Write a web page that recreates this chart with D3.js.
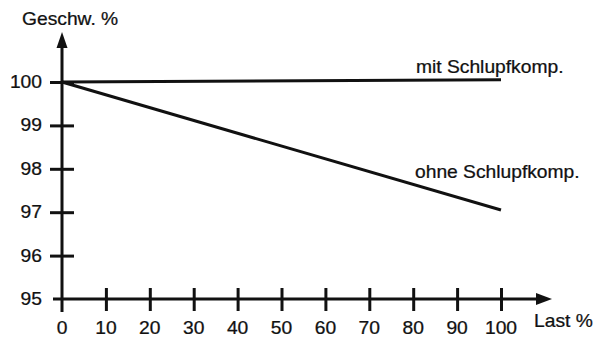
<!DOCTYPE html>
<html>
<head>
<meta charset="utf-8">
<script src="https://cdn.jsdelivr.net/npm/d3@7"></script>
<style>
  html, body { margin: 0; padding: 0; background: #fff; }
  svg text { font-family: "Liberation Sans", Arial, Helvetica, sans-serif; fill: #111; }
</style>
</head>
<body>
<svg id="chart" width="593" height="338"></svg>
<script>
// Load (%) on x, speed (%) on y
const loadPoints = [0, 100];
const speedWithComp = [100, 100.05];
const speedWithoutComp = [100, 97.05];
const seriesLabels = ["mit Schlupfkomp.", "ohne Schlupfkomp."];
const xTicks = [0, 10, 20, 30, 40, 50, 60, 70, 80, 90, 100];
const yTicks = [95, 96, 97, 98, 99, 100];
const xTitle = "Last %";
const yTitle = "Geschw. %";

const svg = d3.select("#chart");
const ink = "#111";
const fontSize = 17.5;
const stretch = 1.1;

const x = d3.scaleLinear().domain([0, 100]).range([62, 501]);
const y = d3.scaleLinear().domain([95, 100]).range([299, 82]);

// horizontally widened text helper
function label(txt, px, py, anchor) {
  const g = svg.append("g").attr("transform", `translate(${px},${py}) scale(${stretch},1)`);
  g.append("text").attr("font-size", fontSize).attr("text-anchor", anchor || "start")
    .attr("stroke", ink).attr("stroke-width", 0.25).text(txt);
}

// x axis with ticks crossing the line
const xAxis = svg.append("g")
  .attr("transform", `translate(0,${y(95)})`)
  .call(d3.axisBottom(x).tickValues(xTicks.filter(d => d > 0)).tickSize(12).tickFormat(""));
xAxis.select(".domain").remove();
xAxis.selectAll(".tick line").attr("y1", -11).attr("y2", 12).attr("stroke", ink).attr("stroke-width", 3);

// y axis with ticks crossing the line
const yAxis = svg.append("g")
  .attr("transform", `translate(${x(0)},0)`)
  .call(d3.axisLeft(y).tickValues(yTicks.filter(d => d > 95)).tickSize(12).tickFormat(""));
yAxis.select(".domain").remove();
yAxis.selectAll(".tick line").attr("x1", -12).attr("x2", 12).attr("stroke", ink).attr("stroke-width", 3);

// axis lines
svg.append("line").attr("x1", x(0) - 9).attr("x2", 540).attr("y1", y(95)).attr("y2", y(95))
  .attr("stroke", ink).attr("stroke-width", 3);
svg.append("line").attr("x1", x(0)).attr("x2", x(0)).attr("y1", y(95) + 13).attr("y2", 44)
  .attr("stroke", ink).attr("stroke-width", 3);

// arrowheads
svg.append("path")
  .attr("d", `M${x(0)},32 L${x(0) + 5.5},48 L${x(0) - 5.5},48 Z`).attr("fill", ink);
svg.append("path")
  .attr("d", `M552,${y(95)} L536,${y(95) - 6} L536,${y(95) + 6} Z`).attr("fill", ink);

// tick labels
xTicks.forEach(t => label(String(t), x(t), 334, "middle"));
yTicks.forEach(t => label(String(t), 42, y(t) + 6, "end"));

// axis titles
label(yTitle, 22, 25, "start");
label(xTitle, 534, 327, "start");

// series lines
const line = d3.line().x(d => x(d[0])).y(d => y(d[1]));
[speedWithComp, speedWithoutComp].forEach(vals => {
  svg.append("path")
    .datum(loadPoints.map((l, i) => [l, vals[i]]))
    .attr("d", line)
    .attr("fill", "none")
    .attr("stroke", ink)
    .attr("stroke-width", 3);
});

// series labels
label(seriesLabels[0], 416, 73, "start");
label(seriesLabels[1], 415, 178, "start");
</script>
</body>
</html>
